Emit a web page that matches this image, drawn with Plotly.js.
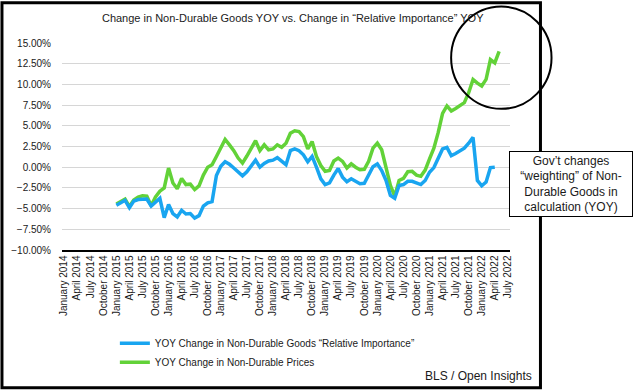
<!DOCTYPE html>
<html>
<head>
<meta charset="utf-8">
<script src="https://cdn.plot.ly/plotly-3.0.1.min.js"></script>
<style>
  html, body { margin: 0; padding: 0; background: #ffffff; }
  #chart { width: 634px; height: 391px; }
</style>
</head>
<body>
<div id="chart"></div>
<script>
// Monthly categories, January 2014 - July 2022
const categories = [
  "January 2014","February 2014","March 2014","April 2014","May 2014","June 2014","July 2014","August 2014","September 2014","October 2014","November 2014","December 2014",
  "January 2015","February 2015","March 2015","April 2015","May 2015","June 2015","July 2015","August 2015","September 2015","October 2015","November 2015","December 2015",
  "January 2016","February 2016","March 2016","April 2016","May 2016","June 2016","July 2016","August 2016","September 2016","October 2016","November 2016","December 2016",
  "January 2017","February 2017","March 2017","April 2017","May 2017","June 2017","July 2017","August 2017","September 2017","October 2017","November 2017","December 2017",
  "January 2018","February 2018","March 2018","April 2018","May 2018","June 2018","July 2018","August 2018","September 2018","October 2018","November 2018","December 2018",
  "January 2019","February 2019","March 2019","April 2019","May 2019","June 2019","July 2019","August 2019","September 2019","October 2019","November 2019","December 2019",
  "January 2020","February 2020","March 2020","April 2020","May 2020","June 2020","July 2020","August 2020","September 2020","October 2020","November 2020","December 2020",
  "January 2021","February 2021","March 2021","April 2021","May 2021","June 2021","July 2021","August 2021","September 2021","October 2021","November 2021","December 2021",
  "January 2022","February 2022","March 2022","April 2022","May 2022","June 2022","July 2022"
];

// Quarterly tick labels shown on the axis
const tickLabels = [
  "January 2014","April 2014","July 2014","October 2014",
  "January 2015","April 2015","July 2015","October 2015",
  "January 2016","April 2016","July 2016","October 2016",
  "January 2017","April 2017","July 2017","October 2017",
  "January 2018","April 2018","July 2018","October 2018",
  "January 2019","April 2019","July 2019","October 2019",
  "January 2020","April 2020","July 2020","October 2020",
  "January 2021","April 2021","July 2021","October 2021",
  "January 2022","April 2022","July 2022"
];

// YOY Change in Non-Durable Goods "Relative Importance" (%), Jan 2015 - Apr 2022
const relImportance = [
  -4.6, -4.3, -4.0, -4.9, -4.1, -3.9, -3.85, -3.85, -4.7, -4.2, -3.75, -6.1,
  -4.5, -5.6, -6.0, -5.2, -5.65, -5.6, -6.15, -5.85, -4.7, -4.3, -4.15, -1.0,
  0.1, 0.65, 0.35, -0.1, -0.6, -1.05, -0.55, 0.1, 0.85, 0.0, 0.45, 0.75,
  0.85, 1.15, 0.7, 0.3, 2.0, 2.2, 2.0, 1.5, 0.65, 1.3, 0.0, -1.4,
  -2.1, -1.9, -0.95, -0.15, -1.2, -1.75, -1.4, -1.75, -2.0, -1.95, -1.05, 0.05,
  0.4, -0.4, -1.6, -3.4, -3.75, -2.2, -2.1, -1.7, -1.7, -1.95, -2.1, -1.6,
  -0.6, -0.05, 1.2, 2.2, 2.4, 1.4, 1.65, 2.0, 2.3, 2.9, 3.6, -1.6,
  -2.25, -1.8, -0.05, 0.0
];

// YOY Change in Non-Durable Prices (%), Jan 2015 - May 2022
const prices = [
  -4.45, -4.15, -3.85, -4.75, -3.95, -3.6, -3.45, -3.5, -4.65, -3.6, -2.9, -2.5,
  -0.1, -1.9, -2.6, -1.35, -2.1, -2.05, -2.7, -2.25, -0.95, 0.0, 0.3, 1.3,
  2.3, 3.35, 2.7, 2.0, 1.1, 0.5, 1.35, 2.3, 3.2, 2.0, 2.7, 2.1,
  2.2, 2.7, 2.4, 2.9, 4.1, 4.4, 4.3, 3.7, 2.2, 3.1, 1.3, 0.2,
  -0.5, -0.4, 0.75, 1.1, 0.7, -0.1, 0.4, 0.0, -0.3, -0.25, 0.7, 2.3,
  2.9, 2.1, -0.1, -2.2, -3.5, -1.6, -1.35, -0.55, -0.5, -0.95, -1.1, -0.35,
  1.0, 2.3, 4.2, 6.5, 7.4, 6.8, 7.1, 7.4, 7.8, 9.0, 10.6, 10.15,
  9.8, 10.6, 13.0, 12.6, 14.0
];

const seriesNames = [
  "YOY Change in Non-Durable Goods \u201cRelative Importance\u201d",
  "YOY Change in Non-Durable Prices"
];

const startIndex = categories.indexOf("January 2015");
const FONT = "Liberation Sans, Arial, Helvetica, sans-serif";

const traces = [
  {
    type: "scatter", mode: "lines", name: seriesNames[1],
    x: categories.slice(startIndex, startIndex + prices.length),
    y: prices,
    line: { color: "#62d238", width: 3.5 },
    hoverinfo: "skip"
  },
  {
    type: "scatter", mode: "lines", name: seriesNames[0],
    x: categories.slice(startIndex, startIndex + relImportance.length),
    y: relImportance,
    line: { color: "#19a5f0", width: 3.5 },
    hoverinfo: "skip"
  }
];

const layout = {
  width: 634, height: 391,
  margin: { l: 62, r: 124, t: 43, b: 141, pad: 0 },
  paper_bgcolor: "#ffffff",
  plot_bgcolor: "#ffffff",
  font: { family: FONT, color: "#1a1a1a", size: 10 },
  showlegend: true,
  title: {
    text: "Change in Non-Durable Goods YOY vs. Change in \u201cRelative Importance\u201d YOY",
    font: { family: FONT, size: 11, color: "#1a1a1a" },
    xref: "paper", x: 0.515, xanchor: "center",
    yref: "container", y: 0.954, yanchor: "middle"
  },
  xaxis: {
    type: "category",
    categoryorder: "array",
    categoryarray: categories,
    range: [-0.5, categories.length - 0.5],
    tickvals: tickLabels,
    ticktext: tickLabels,
    tickangle: -90,
    ticks: "",
    showgrid: false,
    zeroline: false,
    showline: true,
    linecolor: "#000000",
    linewidth: 1.5,
    tickfont: { family: FONT, size: 10, color: "#1a1a1a" },
    fixedrange: true
  },
  yaxis: {
    range: [-10, 15],
    tick0: -10, dtick: 2.5,
    tickformat: ".2f", ticksuffix: "%",
    ticks: "",
    showgrid: true,
    gridcolor: "#d6d6d6",
    gridwidth: 1,
    zeroline: false,
    showline: false,
    ticklabelstandoff: 10,
    tickfont: { family: FONT, size: 10, color: "#1a1a1a" },
    fixedrange: true
  },
  legend: {
    orientation: "v",
    traceorder: "reversed",
    x: 0.118, xanchor: "left",
    y: -0.38, yanchor: "top",
    font: { family: FONT, size: 10, color: "#1a1a1a" },
    bgcolor: "rgba(0,0,0,0)",
    itemwidth: 30,
    tracegroupgap: 0
  },
  shapes: [
    { type: "rect", xref: "paper", yref: "paper",
      x0: -0.134, x1: 1.068, y0: -0.665, y1: 1.195,
      line: { color: "#000000", width: 3 }, fillcolor: "rgba(0,0,0,0)", layer: "above" },
    { type: "circle", xref: "paper", yref: "paper",
      x0: 0.8686, x1: 1.0927, y0: 0.682, y1: 1.176,
      line: { color: "#000000", width: 2 }, fillcolor: "rgba(0,0,0,0)", layer: "above" }
  ],
  annotations: [
    { xref: "paper", yref: "paper", x: 1.137, y: 0.317,
      xanchor: "center", yanchor: "middle",
      text: "Gov\u2019t changes<br>\u201cweighting\u201d of Non-<br>Durable Goods in<br>calculation (YOY)",
      showarrow: false, align: "center",
      font: { family: FONT, size: 12, color: "#1a1a1a" },
      bgcolor: "#ffffff", bordercolor: "#000000", borderwidth: 1,
      width: 120, height: 62, borderpad: 1 },
    { xref: "paper", yref: "paper", x: 1.0525, y: -0.61,
      xanchor: "right", yanchor: "middle",
      text: "BLS / Open Insights", showarrow: false,
      font: { family: FONT, size: 12, color: "#1a1a1a" } }
  ]
};

Plotly.newPlot("chart", traces, layout, { displayModeBar: false, staticPlot: true });
</script>
</body>
</html>
